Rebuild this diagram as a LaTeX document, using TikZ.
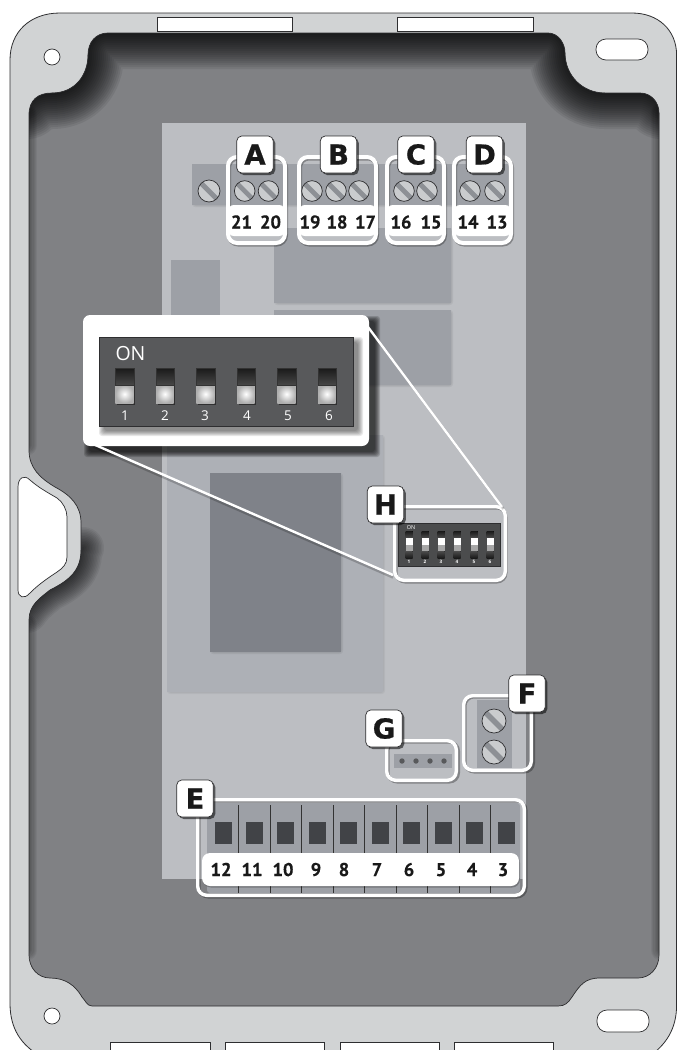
\documentclass[tikz,border=0pt]{standalone}
\usepackage{fontspec}
\setmainfont[BoldFeatures={FakeBold=0.35}]{PT Sans}
\newfontfamily\letterfont[BoldFeatures={FakeBold=0.7}]{DejaVu Sans}
\newfontfamily\dipfont{Open Sans}
\usetikzlibrary{shadows,calc}
\definecolor{casecol}{HTML}{D1D3D4}
\definecolor{cavcol}{HTML}{808184}
\definecolor{pcbcol}{HTML}{BCBEC2}
\definecolor{blockcol}{HTML}{9DA0A6}
\definecolor{lightblock}{HTML}{ADB0B6}
\definecolor{chipcol}{HTML}{7F8289}
\definecolor{dipcol}{HTML}{58595B}
\definecolor{edgecol}{HTML}{2E2E30}
\definecolor{screwcol}{HTML}{CACCCE}
\definecolor{slotcol}{HTML}{414347}
\tikzset{
  badge/.style={fill=white,draw=edgecol,line width=.7pt,rounded corners=5pt,inner sep=0pt,
    minimum width=36.5pt,minimum height=37pt,
    font=\letterfont\bfseries\fontsize{27.5}{28}\selectfont,text=black!90,
    drop shadow={shadow xshift=2pt,shadow yshift=-2pt,opacity=.55,fill=black}},
  num/.style={inner sep=0pt,anchor=base,font=\bfseries\fontsize{18.5}{20}\selectfont,text=black!90},
  frameline/.style={draw=white,line width=4pt,rounded corners=9pt},
  frameshade/.style={draw=black,opacity=.3,line width=4pt,rounded corners=9pt},
  panel/.style={fill=white,rounded corners=6pt},
  casehole/.style={fill=white,draw=edgecol,line width=.7pt},
  bigdigit/.style={inner sep=0pt,anchor=base,text=white,font=\dipfont\fontsize{13.5}{14}\selectfont},
  smalldigit/.style={inner sep=0pt,text=white,font=\dipfont\bfseries\fontsize{4.6}{5}\selectfont},
  zoomline/.style={draw=white,line width=2.4pt},
}
\newcommand{\softrect}[7]{% x1 y1 x2 y2 offset spread opacity
  \foreach \k in {0,...,#6}{\fill[black,opacity=#7,rounded corners=3pt]
    (#1+#5-\k,#2+#5-\k) rectangle (#3+#5+\k,#4+#5+\k);}}
\newcommand{\screw}[3]{%
  \fill[screwcol] (#1,#2) circle (#3);
  \begin{scope}\clip (#1,#2) circle (#3);
    \draw[blockcol!90!black,line width=.45*#3 pt] (#1-#3,#2-#3) -- (#1+#3,#2+#3);
  \end{scope}
  \draw[edgecol,line width=.7pt] (#1,#2) circle (#3);}
\newcommand{\frameAD}[2]{% left right : top terminal frame
  \draw[frameshade] (#1+3,158.5) rectangle (#2-1,244.5);
  \fill[pcbcol,rounded corners=7pt] (#1+2,205) rectangle (#2-2,241);
  \draw[frameline] (#1+2,157) rectangle (#2-2,243);
  \fill[panel] (#1+2,205) rectangle (#2-2,236);}
\def\cavity{(29,115) .. controls (29,100) and (38,93) .. (52,93) .. controls (75,93) and (88,75) .. (88,55) .. controls (88,42) and (96,33) .. (108,33) -- (548,33) .. controls (558,33) and (565,43) .. (565,53) .. controls (565,75) and (582,93) .. (605,93) -- (640,93) .. controls (651,93) and (659,102) .. (659,113) -- (659,955) .. controls (659,968) and (650,978) .. (638,978) -- (600,978) .. controls (585,978) and (580,985) .. (572,997) .. controls (568,1003) and (565,1006) .. (558,1006) -- (92,1006) .. controls (87,1006) and (85,1000) .. (82,997) .. controls (75,985) and (65,978) .. (50,978) .. controls (38,978) and (29,968) .. (29,955) -- (29,620) .. controls (29,605) and (40,598) .. (50,590) .. controls (70,580) and (81,570) .. (81,550) -- (81,523) .. controls (81,505) and (70,495) .. (55,487) .. controls (40,478) and (29,468) .. (29,450) -- cycle}
\def\topedge{(27,103) .. controls (33,96) and (42,93) .. (52,93) .. controls (75,93) and (88,75) .. (88,55) .. controls (88,42) and (96,33) .. (108,33) -- (548,33) .. controls (558,33) and (565,43) .. (565,53) .. controls (565,75) and (582,93) .. (605,93) -- (640,93) .. controls (646,93) and (656,97) .. (661,103)}
\def\notchedge{(83,548) -- (81,552) .. controls (81,570) and (70,580) .. (50,590) .. controls (42,596) and (32,604) .. (27,612)}
\begin{document}
\begin{tikzpicture}[x=1pt,y=-1pt]
\useasboundingbox (0,0) rectangle (677,1050);
\clip (0,0) rectangle (677,1050);
\fill[white] (0,0) rectangle (677,1050);
% case
\draw[fill=casecol,draw=edgecol,line width=.8pt]
  (10,60) .. controls (10,32) and (30,13) .. (60,13) -- (632,13) .. controls (658,13) and (676.6,30) .. (676.6,55)
  -- (676.6,1005) .. controls (676.6,1030) and (665,1045) .. (650,1056) -- (40,1056) .. controls (22,1045) and (10,1030) .. (10,1003) -- cycle;
\fill[white,draw=edgecol,line width=.7pt] (157,17) rectangle (292,31);
\fill[white,draw=edgecol,line width=.7pt] (397,17) rectangle (533,31);
\foreach \a/\b in {110/210,225/324,340/439,454/553}{\draw[casehole] (\a,1042) rectangle (\b,1060);}
\draw[casehole] (52,57) circle (8);
\draw[casehole] (52,1016) circle (8);
\draw[casehole,rounded corners=10pt] (596,39) rectangle (648,60);
\draw[casehole,rounded corners=10pt] (597,1010) rectangle (649,1032);
\draw[casehole] (18,487) .. controls (18,478) and (24,474) .. (30,480) .. controls (38,487) and (45,491) .. (57,498) .. controls (63,502) and (67,510) .. (67,517) -- (67,557) .. controls (67,564) and (63,568) .. (57,572) .. controls (45,580) and (38,585) .. (30,593) .. controls (24,600) and (18,597) .. (18,590) -- cycle;
% cavity with inner shadow
\fill[cavcol] \cavity;
\begin{scope}
  \clip \cavity;
  \foreach \i in {1,...,18}{\draw[black,opacity=.07,line cap=round,line width=4*\i pt] \topedge;}
  \foreach \i in {1,...,14}{\draw[black,opacity=.06,line cap=round,line width=3*\i pt] \notchedge;}
  \foreach \i in {1,...,8}{
    \draw[black,opacity=.05,line cap=round,line width=2.6*\i pt] (27,115) -- (27,445);
    \draw[black,opacity=.05,line cap=round,line width=2.6*\i pt] (27,625) -- (27,950);
    \draw[black,opacity=.05,line cap=round,line width=2.6*\i pt] (661,113) -- (661,950);}
\end{scope}
\draw[edgecol,line width=.7pt] \cavity;
% board
\fill[pcbcol] (162,123) rectangle (526,879);
\softrect{192}{164}{508}{205}{1}{1}{.05}
\fill[blockcol] (192,164) rectangle (508,205);
\softrect{274}{228}{451}{303}{1}{1}{.05}
\fill[blockcol] (274,228) rectangle (451,303);
\softrect{274}{310}{451}{385}{1}{1}{.05}
\fill[blockcol] (274,310) rectangle (451,385);
\fill[blockcol] (171,260) rectangle (220,340);
\softrect{167}{435}{383}{692}{1}{1}{.04}
\fill[lightblock] (167,435) rectangle (383,692);
\softrect{210}{473}{341}{652}{1}{1}{.05}
\fill[chipcol] (210,473) rectangle (341,652);
% loose screw
\screw{209}{191}{11}
% terminal frames A-D
\frameAD{226}{287}
\frameAD{297}{378}
\frameAD{385}{446}
\frameAD{452}{513}
\foreach \x in {244.7,268.5,312,336,359,404,427,470,495}{\screw{\x}{191}{10.3}}
\foreach \t/\x in {21/241.5,20/270.5,19/310,18/337,17/365.5,16/401,15/431,14/468,13/497}{
  \node[num] (n\t) at (\x,228.5) {\t};}
\node[badge] (A) at (255,154.5) {A};
\node[badge] (B) at (338.5,154.5) {B};
\node[badge] (C) at (416,154.5) {C};
\node[badge] (D) at (484.5,154.5) {D};
% H group
\draw[frameshade,line width=3pt] (396,508) rectangle (506,582);
\draw[frameline,line width=3.4pt] (394.7,506.7) rectangle (505.3,580.3);
\node[fill=dipcol!85!black,draw=edgecol,line width=.7pt,minimum width=102pt,minimum height=43pt,inner sep=0pt] (smalldip) at (449,544.5) {};
\node[inner sep=0pt,text=white,font=\dipfont\fontsize{5.5}{6}\selectfont] (smallon) at (411,527.5) {ON};
\foreach \n/\x in {1/409,2/425,3/441,4/457,5/474,6/490}{
  \fill[top color=black!90,bottom color=black!70] (\x-3.5,531) rectangle (\x+3.5,538);
  \fill[white] (\x-3.5,538) rectangle (\x+3.5,545);
  \fill[black!35] (\x-3.5,545) rectangle (\x+3.5,551);
  \fill[top color=black!70,bottom color=black!90] (\x-3.5,551) rectangle (\x+3.5,558);
  \node[smalldigit] (sd\n) at (\x,562) {\n};}
\node[badge] (H) at (385.5,504.5) {H};
% G group
\draw[frameshade,line width=3pt] (388,742) rectangle (458.5,782);
\draw[frameline,line width=3.4pt] (386.7,740.7) rectangle (456.3,780.3);
\fill[blockcol] (394,754) rectangle (452,768);
\foreach \x in {402,416,430,444}{\fill[dipcol] (\x,761) circle (2.7);}
\node[badge] (G) at (384,728.5) {G};
% F group
\fill[blockcol] (477,700) rectangle (512,768);
\draw[frameshade,line width=3pt] (465,697) rectangle (533.5,772);
\draw[frameline,line width=3.4pt] (463.7,695.7) rectangle (531.3,770.3);
\screw{494}{721}{12}
\screw{494}{752}{12}
\node[badge] (F) at (527,693.5) {F};
% E group
\fill[blockcol,rounded corners=3pt] (207,803) rectangle (520,893);
\foreach \x in {238.7,270,301.7,333.3,364.7,396.3,427.3,459.3,490.7}{\draw[black!80,line width=.7pt] (\x,805) -- (\x,893);}
\foreach \x in {215,246,277,309,340,372,403,435,466,498}{\fill[slotcol] (\x,822) rectangle (\x+17,844);}
\draw[frameshade,line width=3pt] (199,801) rectangle (526,897);
\draw[frameline,line width=3.4pt] (197.7,799.7) rectangle (524.3,895.3);
\fill[black,opacity=.25,rounded corners=8pt] (203,855) rectangle (520,887.5);
\node[fill=white,rounded corners=8pt,minimum width=317pt,minimum height=33pt,inner sep=0pt] (epanel) at (360.5,869.5) {};
\foreach \t/\x in {12/221,11/252,10/283,9/316,8/344,7/377,6/409,5/441,4/472,3/503}{
  \node[num] (e\t) at (\x,876) {\t};}
\node[badge] (E) at (195,798.5) {E};
% zoom callout
\coordinate (calloutTR) at (368,327);
\coordinate (calloutBL) at (93,444);
\coordinate (hframeTR) at (502,507);
\coordinate (hframeBL) at (393,575);
\softrect{83}{315}{369}{446}{6}{5}{.16}
\draw[black,opacity=.2,line width=2.4pt] ($(calloutTR)+(1.5,2)$) -- ($(hframeTR)+(1.5,2)$);
\draw[black,opacity=.2,line width=2.4pt] ($(calloutBL)+(0,2.5)$) -- ($(hframeBL)+(0,2.5)$);
\draw[zoomline] (calloutTR) -- (hframeTR);
\draw[zoomline] (calloutBL) -- (hframeBL);
\node[fill=white,rounded corners=7pt,minimum width=286pt,minimum height=131pt,inner sep=0pt] (callout) at (226,380.5) {};
\softrect{99}{337}{353}{426}{5}{5}{.09}
\node[fill=dipcol,draw=edgecol,line width=.7pt,minimum width=254pt,minimum height=89pt,inner sep=0pt] (bigdip) at (226,381.5) {};
\node[inner sep=0pt,text=white,font=\dipfont\fontsize{19.5}{20}\selectfont] (bigon) at (130.5,354) {ON};
\foreach \n/\a/\b/\t in {1/115.3/133.7/125,2/156/173.7/165,3/196.3/214.7/205,4/237/254.7/247,5/277.3/295.7/288,6/318/335.7/329}{
  \fill[black,opacity=.45] (\a+1.5,369.5) rectangle (\b+1.5,404.5);
  \fill[top color=black!90,bottom color=black!72] (\a,368) rectangle (\b,385);
  \shade[inner color=white,outer color=black!32] (\a,385) rectangle (\b,403);
  \draw[black!80,line width=.3pt] (\a,368) rectangle (\b,385);
  \node[bigdigit] (bd\n) at (\t,420.7) {\n};}
\end{tikzpicture}
\end{document}
